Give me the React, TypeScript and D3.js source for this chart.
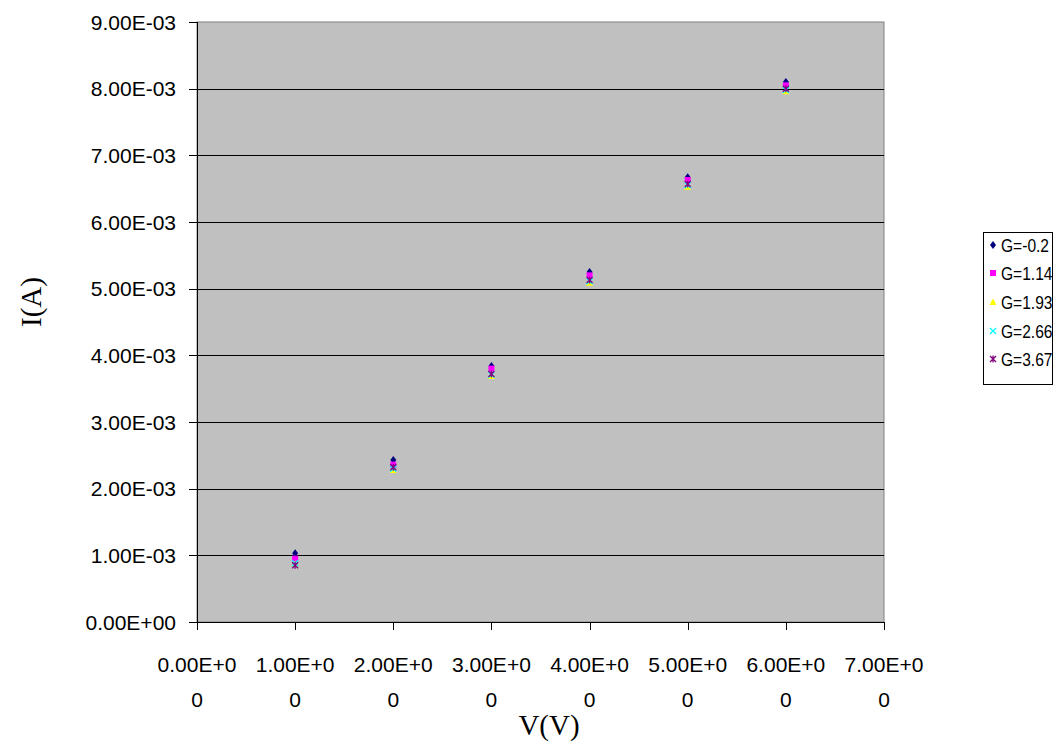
import React from "react";
import * as d3 from "d3";

const xValues = [1, 2, 3, 4, 5, 6];
const seriesNames = ["G=-0.2", "G=1.14", "G=1.93", "G=2.66", "G=3.67"];
const seriesValues: number[][] = [
  [1.03e-3, 2.43e-3, 3.84e-3, 5.25e-3, 6.67e-3, 8.1e-3],
  [0.95e-3, 2.36e-3, 3.8e-3, 5.2e-3, 6.63e-3, 8.05e-3],
  [0.87e-3, 2.28e-3, 3.69e-3, 5.09e-3, 6.53e-3, 7.96e-3],
  [0.88e-3, 2.3e-3, 3.71e-3, 5.11e-3, 6.55e-3, 7.98e-3],
  [0.85e-3, 2.32e-3, 3.72e-3, 5.13e-3, 6.57e-3, 8.0e-3],
];
const seriesColors = ["#000080", "#FF00FF", "#FFFF00", "#00FFFF", "#800080"];
const yTicks = [0, 1e-3, 2e-3, 3e-3, 4e-3, 5e-3, 6e-3, 7e-3, 8e-3, 9e-3];
const yTickLabels = ["0.00E+00", "1.00E-03", "2.00E-03", "3.00E-03", "4.00E-03", "5.00E-03", "6.00E-03", "7.00E-03", "8.00E-03", "9.00E-03"];
const xTicks = [0, 1, 2, 3, 4, 5, 6, 7];
const xTickLabels = ["0.00E+00", "1.00E+00", "2.00E+00", "3.00E+00", "4.00E+00", "5.00E+00", "6.00E+00", "7.00E+00"];

const W = 1062, H = 751;
const L = 197, R = 884, T = 22, B = 622;

function Marker({ kind, x, y, color }: { kind: number; x: number; y: number; color: string }) {
  const s = 3;
  if (kind === 0) return <path d={`M${x},${y - s - 1}L${x + s},${y}L${x},${y + s + 1}L${x - s},${y}Z`} fill={color} />;
  if (kind === 1) return <rect x={x - 3} y={y - 3} width={6} height={6} fill={color} />;
  if (kind === 2) return <path d={`M${x},${y - 3.5}L${x + 3.5},${y + 3}L${x - 3.5},${y + 3}Z`} fill={color} />;
  if (kind === 3)
    return <path d={`M${x - 3},${y - 3}L${x + 3},${y + 3}M${x + 3},${y - 3}L${x - 3},${y + 3}`} stroke={color} strokeWidth={1.3} />;
  return (
    <path
      d={`M${x - 3},${y - 3}L${x + 3},${y + 3}M${x + 3},${y - 3}L${x - 3},${y + 3}M${x},${y - 3.5}L${x},${y + 3.5}`}
      stroke={color}
      strokeWidth={1.3}
    />
  );
}

export default function App() {
  const x = d3.scaleLinear().domain([0, 7]).range([L, R]);
  const y = d3.scaleLinear().domain([0, 9e-3]).range([B, T]);
  const font = "'Liberation Sans', Arial, sans-serif";
  const serif = "'Liberation Serif', 'Times New Roman', serif";
  const legendY = [245, 273, 302, 331, 359];
  return (
    <svg width={W} height={H} style={{ position: "absolute", left: 0, top: 0 }}>
      <rect x={0} y={0} width={W} height={H} fill="#fff" />
      <rect x={L} y={T} width={R - L} height={B - T} fill="#C0C0C0" stroke="#808080" strokeWidth={1} />
      {yTicks.slice(1, -1).map((t) => (
        <line key={t} x1={L} x2={R} y1={Math.round(y(t)) + 0.5} y2={Math.round(y(t)) + 0.5} stroke="#000" />
      ))}
      <line x1={L + 0.5} x2={L + 0.5} y1={T} y2={B} stroke="#000" />
      <line x1={L} x2={R} y1={B + 0.5} y2={B + 0.5} stroke="#000" />
      {yTicks.map((t, i) => (
        <g key={t}>
          <line x1={L - 8} x2={L} y1={Math.round(y(t)) + 0.5} y2={Math.round(y(t)) + 0.5} stroke="#000" />
          <text x={176} y={y(t) + 7.5} textAnchor="end" fontFamily={font} fontSize={21} fill="#000">
            {yTickLabels[i]}
          </text>
        </g>
      ))}
      {xTicks.map((t, i) => (
        <g key={t}>
          <line x1={Math.round(x(t)) + 0.5} x2={Math.round(x(t)) + 0.5} y1={B} y2={B + 8} stroke="#000" />
          <text x={x(t)} y={672} textAnchor="middle" fontFamily={font} fontSize={21} fill="#000">
            {xTickLabels[i].slice(0, 7)}
          </text>
          <text x={x(t)} y={707} textAnchor="middle" fontFamily={font} fontSize={21} fill="#000">
            {xTickLabels[i].slice(7)}
          </text>
        </g>
      ))}
      {seriesValues.map((vals, si) =>
        vals.map((v, i) => (
          <Marker key={`${si}-${i}`} kind={si} x={x(xValues[i])} y={y(v)} color={seriesColors[si]} />
        ))
      )}
      <text x={549} y={735} textAnchor="middle" fontFamily={serif} fontSize={29}>
        V(V)
      </text>
      <text transform={`translate(41,302) rotate(-90)`} textAnchor="middle" fontFamily={serif} fontSize={29}>
        I(A)
      </text>
      <rect x={983.5} y={232.5} width={69} height={152} fill="#fff" stroke="#000" />
      {seriesNames.map((n, i) => (
        <g key={n}>
          <Marker kind={i} x={993} y={legendY[i]} color={seriesColors[i]} />
          <text
            transform={`translate(1001,${legendY[i] + 7}) scale(0.82,1)`}
            fontFamily={font}
            fontSize={19}
            fill="#000"
          >
            {n}
          </text>
        </g>
      ))}
    </svg>
  );
}
